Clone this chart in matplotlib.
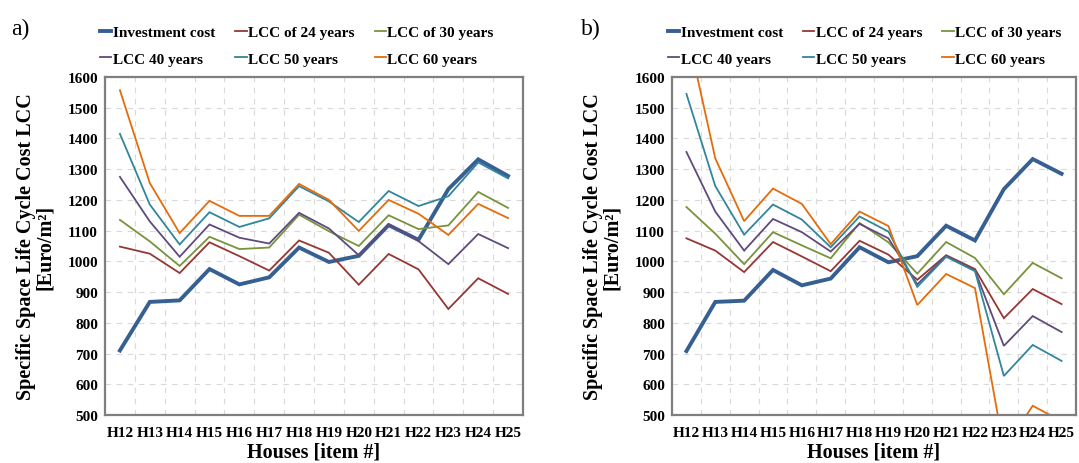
import numpy as np
import matplotlib
matplotlib.use("Agg")
import matplotlib.pyplot as plt

### Data ###

houses = ["H12", "H13", "H14", "H15", "H16", "H17", "H18",
          "H19", "H20", "H21", "H22", "H23", "H24", "H25"]

series_names = ["Investment cost", "LCC of 24 years", "LCC of 30 years",
                "LCC 40 years", "LCC 50 years", "LCC 60 years"]

# a) panel
a_invest = [710, 868, 873, 975, 925, 948, 1045, 998, 1018, 1118, 1070, 1235, 1332, 1278]
a_lcc24 = [1048, 1025, 962, 1062, 1017, 970, 1068, 1028, 924, 1024, 974, 845, 945, 894]
a_lcc30 = [1135, 1065, 985, 1080, 1040, 1045, 1152, 1098, 1050, 1150, 1105, 1117, 1226, 1174]
a_lcc40 = [1275, 1130, 1015, 1120, 1077, 1058, 1158, 1107, 1020, 1121, 1066, 991, 1089, 1043]
a_lcc50 = [1415, 1185, 1055, 1160, 1112, 1140, 1245, 1195, 1128, 1229, 1180, 1212, 1322, 1270]
a_lcc60 = [1557, 1255, 1092, 1197, 1148, 1148, 1252, 1200, 1099, 1200, 1155, 1086, 1187, 1141]

# b) panel
b_invest = [708, 868, 872, 972, 922, 944, 1046, 997, 1017, 1116, 1068, 1235, 1333, 1285]
b_lcc24 = [1075, 1035, 965, 1063, 1016, 968, 1067, 1022, 940, 1020, 975, 815, 910, 861]
b_lcc30 = [1177, 1090, 991, 1095, 1052, 1010, 1125, 1062, 960, 1063, 1011, 893, 995, 945]
b_lcc40 = [1356, 1162, 1035, 1138, 1095, 1032, 1122, 1075, 925, 1018, 970, 725, 822, 770]
b_lcc50 = [1545, 1245, 1087, 1185, 1136, 1046, 1146, 1097, 917, 1015, 968, 627, 728, 676]
b_lcc60 = [1760, 1335, 1131, 1237, 1187, 1056, 1162, 1115, 858, 959, 913, 390, 530, 480]

### Style ###

colors = ["#376092", "#953735", "#77933C", "#604A7B", "#31859C", "#E46C0A"]
widths = [2.8, 1.3, 1.3, 1.3, 1.3, 1.3]

plt.rcParams["font.family"] = ["Liberation Serif", "DejaVu Serif"]
plt.rcParams["font.weight"] = "bold"

fig = plt.figure(figsize=(10.79, 4.64), dpi=100)
ax_a = fig.add_axes([105 / 1079, 48 / 464, 418 / 1079, 338 / 464])
ax_b = fig.add_axes([672 / 1079, 48 / 464, 404 / 1079, 338 / 464])


def draw_panel(ax, data, label):
    lines = []
    for vals, name, c, lw in zip(data, series_names, colors, widths):
        ln, = ax.plot(houses, vals, color=c, lw=lw, label=name, solid_joinstyle="miter")
        lines.append(ln)

    ax.set_xlim(-0.5, len(houses) - 0.5)
    ax.set_ylim(500, 1600)
    ax.set_yticks(np.arange(500, 1601, 100))
    ax.set_xticks(np.arange(-0.5, len(houses), 1), minor=True)
    ax.grid(True, which="minor", axis="x", ls=(0, (5, 5)), color="#d9d9d9", lw=0.8)
    ax.grid(True, which="major", axis="y", ls=(0, (5, 5)), color="#d9d9d9", lw=0.8)
    ax.tick_params(which="both", length=0)
    ax.tick_params(axis="x", labelsize=11, pad=8)
    ax.tick_params(axis="y", labelsize=11, pad=5)
    for t in ax.get_xticklabels() + ax.get_yticklabels():
        t.set_fontweight("bold")
    for s in ax.spines.values():
        s.set_color("#7f7f7f")
        s.set_linewidth(1.6)

    ax.set_xlabel("Houses [item #]", fontsize=14.5, fontweight="bold", labelpad=2)
    ax.set_ylabel("Specific Space Life Cycle Cost LCC\n[Euro/m²]", fontsize=14.5,
                  fontweight="bold", labelpad=9, linespacing=0.95)

    # legend rows: Excel ordering, row by row
    order = [0, 3, 1, 4, 2, 5]
    ax.legend([lines[i] for i in order], [series_names[i] for i in order],
              ncol=3, loc="lower left", bbox_to_anchor=(-0.045, 0.993),
              frameon=False, handlelength=0.75, handletextpad=0.1,
              columnspacing=1.3, labelspacing=0.85,
              prop={"family": "Liberation Serif", "weight": "bold", "size": 11})

    ax.text(-0.225, 1.145, label, transform=ax.transAxes, fontsize=17,
            fontweight="normal", va="center", ha="left")


draw_panel(ax_a, [a_invest, a_lcc24, a_lcc30, a_lcc40, a_lcc50, a_lcc60], "a)")
draw_panel(ax_b, [b_invest, b_lcc24, b_lcc30, b_lcc40, b_lcc50, b_lcc60], "b)")

fig.savefig("out.png", dpi=100)
